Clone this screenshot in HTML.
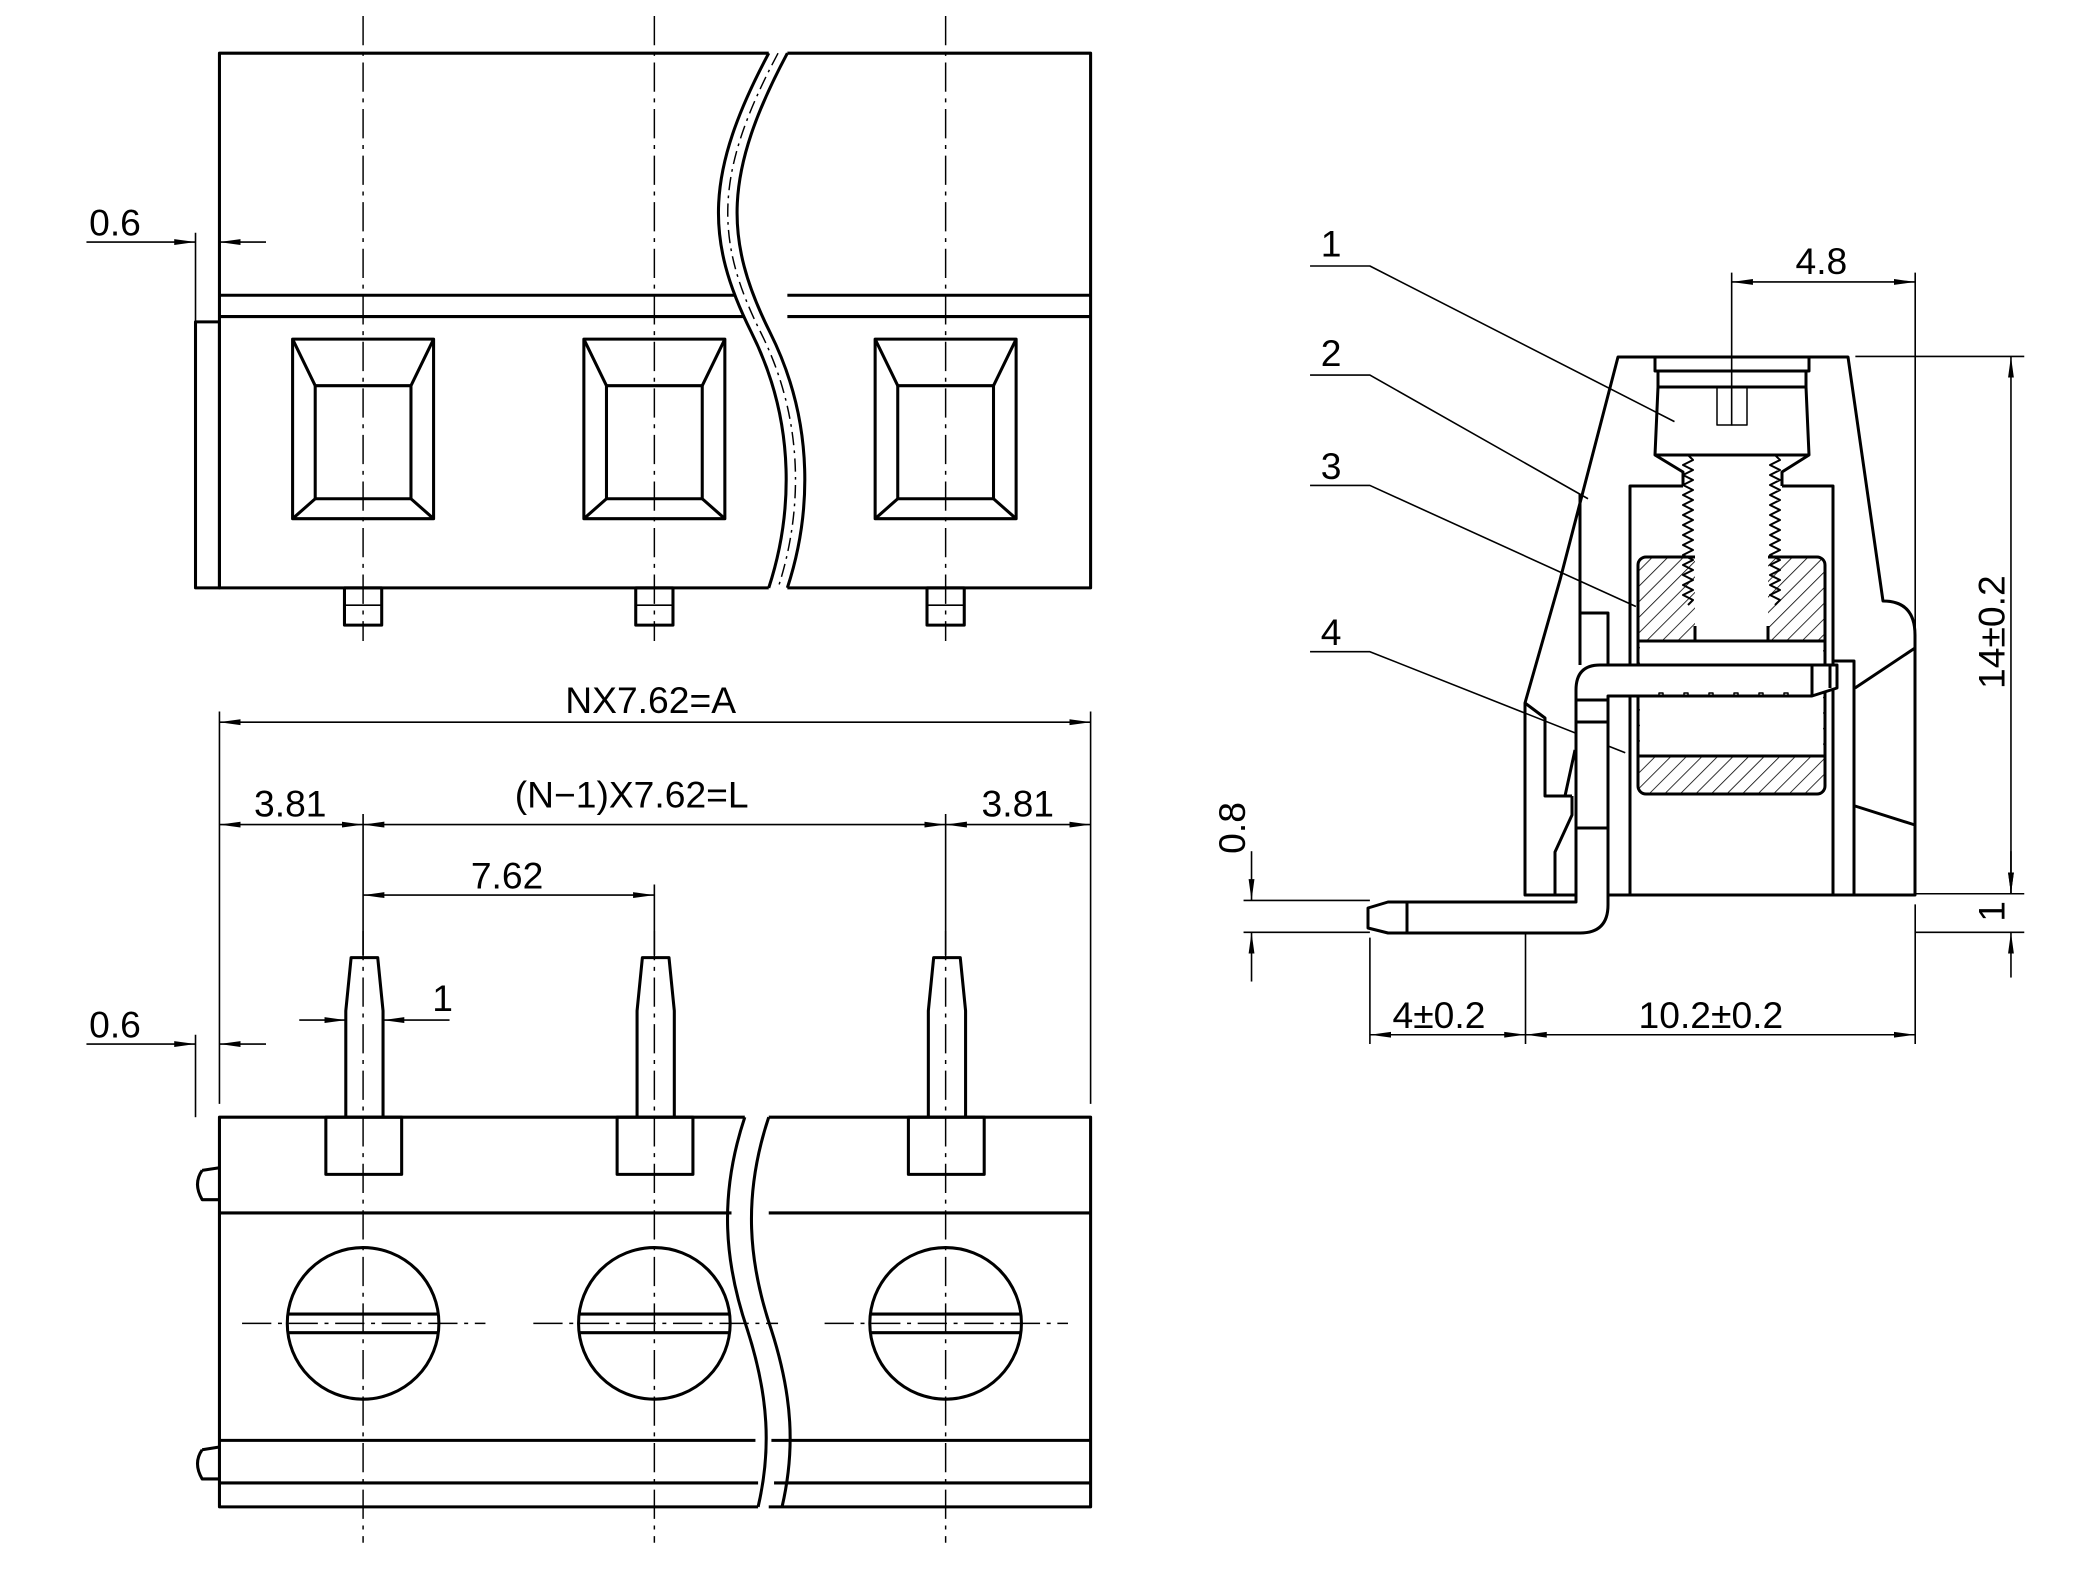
<!DOCTYPE html>
<html><head><meta charset="utf-8"><style>
html,body{margin:0;padding:0;background:#fff;}
svg{display:block}
text{font-family:"Liberation Sans",sans-serif;fill:#000;}
</style></head><body>
<svg width="2085" height="1570" viewBox="0 0 2085 1570" xmlns="http://www.w3.org/2000/svg">
<defs>
<marker id="a" markerWidth="16" markerHeight="6" refX="16" refY="3" orient="auto-start-reverse" markerUnits="userSpaceOnUse"><path d="M0,0.8 L16,3 L0,5.2 Z" fill="#000"/></marker>
<pattern id="h" width="11" height="11" patternUnits="userSpaceOnUse" patternTransform="rotate(45)"><line x1="0" y1="0" x2="0" y2="11" stroke="#000" stroke-width="1.6"/></pattern>
</defs>
<rect width="2085" height="1570" fill="#fff"/>
<g transform="scale(1.33)" fill="none" stroke="#000" stroke-width="2.3" stroke-linejoin="round">
<!-- TOP VIEW -->
<path d="M578,40 H165 V442 H578 M592,40 H820 V442 H592"/>
<path d="M165,222 H552 M165,238 H560 M592,222 H820 M592,238 H820"/>
<rect x="147" y="242" width="18" height="200"/>
<path d="M578,40 C530,130 530,180 565,250 C600,320 595,390 578,442"/>
<path d="M592,40 C544,130 544,180 579,250 C614,320 609,390 592,442"/>
<path d="M585,40 C537,130 537,180 572,250 C607,320 602,390 585,442" stroke-width="1.1" stroke-dasharray="10,4,2,4"/>
<g id="win">
<rect x="220" y="255" width="106" height="135"/>
<rect x="237" y="290" width="72" height="85"/>
<path d="M220,255 L237,290 M326,255 L309,290 M220,390 L237,375 M326,390 L309,375"/>
<rect x="259" y="442" width="28" height="28"/>
<path d="M259,455 H287" stroke-width="1.2"/>
</g>
<use href="#win" transform="translate(219,0)"/>
<use href="#win" transform="translate(438,0)"/>
<g stroke-width="1.1" stroke-dasharray="22,5,3,5">
<path d="M273,12 V482 M492,12 V482 M711,12 V482"/>
<path d="M273,700 V1160 M492,700 V1160 M711,700 V1160"/>
<path d="M182,995 H365 M401,995 H585 M620,995 H803"/>
</g>
<g stroke-width="1.2">
<path d="M65,182 H147" marker-end="url(#a)"/>
<path d="M200,182 H165" marker-end="url(#a)"/>
<path d="M147,175 V242"/>
</g>
<!-- BOTTOM VIEW -->
<path d="M560,840 H165 V1133 H570 M578,840 H820 V1133 H578"/>
<path d="M165,912 H550 M578,912 H820 M165,1083 H568 M580,1083 H820 M165,1115 H570 M582,1115 H820"/>
<path d="M560,840 C540,900 545,950 562,1000 C578,1050 580,1090 570,1133"/>
<path d="M578,840 C558,900 563,950 580,1000 C596,1050 598,1090 588,1133"/>
<path d="M152,880 Q145,890 152,902 L165,902 M165,878 L152,880"/>
<path d="M152,1090 Q145,1100 152,1112 L165,1112 M165,1088 L152,1090"/>
<g id="pin">
<rect x="245" y="840" width="57" height="43"/>
<path d="M260,840 V760 L264,720 H284 L288,760 V840"/>
<circle cx="273" cy="995" r="57"/>
<path d="M217,988 H329 M217,1002 H329"/>
</g>
<use href="#pin" transform="translate(219,0)"/>
<use href="#pin" transform="translate(438,0)"/>
<g stroke-width="1.2">
<path d="M165,535 V830 M820,535 V830 M273,612 V718 M711,612 V718 M492,665 V718"/>
<path d="M165,543 H820" marker-start="url(#a)" marker-end="url(#a)"/>
<path d="M165,620 H273" marker-start="url(#a)" marker-end="url(#a)"/>
<path d="M273,620 H711" marker-start="url(#a)" marker-end="url(#a)"/>
<path d="M711,620 H820" marker-start="url(#a)" marker-end="url(#a)"/>
<path d="M273,673 H492" marker-start="url(#a)" marker-end="url(#a)"/>
<path d="M225,767 H260" marker-end="url(#a)"/>
<path d="M338,767 H288" marker-end="url(#a)"/>
<path d="M65,785 H147" marker-end="url(#a)"/>
<path d="M200,785 H165" marker-end="url(#a)"/>
<path d="M147,778 V840"/>
</g>
<!-- right view dims -->
<g stroke-width="1.2">
<path d="M1302,205 V320 M1440,205 V480"/>
<path d="M1302,212 H1440" marker-start="url(#a)" marker-end="url(#a)"/>
<path d="M1395,268 H1522 M1440,672 H1522 M1440,701 H1522"/>
<path d="M1512,268 V672" marker-start="url(#a)" marker-end="url(#a)"/>
<path d="M1512,640 V672" marker-end="url(#a)"/>
<path d="M1512,735 V701" marker-end="url(#a)"/>
<path d="M935,677 H1030 M935,701 H1030"/>
<path d="M941,640 V677" marker-end="url(#a)"/>
<path d="M941,738 V701" marker-end="url(#a)"/>
<path d="M1030,705 V785 M1147,690 V785 M1440,680 V785"/>
<path d="M1030,778 H1147" marker-start="url(#a)" marker-end="url(#a)"/>
<path d="M1147,778 H1440" marker-start="url(#a)" marker-end="url(#a)"/>
<path d="M985,200 H1030 L1259,317 M985,282 H1030 L1194,375 M985,365 H1030 L1230,456 M985,490 H1030 L1222,566"/>
</g>
</g>
<!-- RIGHT VIEW in full coords -->
<g fill="none" stroke="#000" stroke-width="3" stroke-linejoin="round">
<rect x="1638" y="557" width="187" height="237" rx="8" fill="url(#h)"/>
<rect x="1640" y="641" width="183" height="115" fill="#fff" stroke="none"/>
<rect x="1695" y="555" width="73" height="86" fill="#fff" stroke="none"/>
<path d="M1638,641 H1825 M1638,756 H1825 M1695,626 V641 M1768,626 V641"/>
<path d="M1618,357 H1848 L1883,601 Q1915,601 1915,635 V895 H1525 V703 L1560,580 Z"/>
<path d="M1915,648 L1855,688 M1855,806 L1915,825"/>
<path d="M1630,895 V486 H1683 M1782,486 H1833 V895 M1833,661 H1854 V895"/>
<path d="M1655,357 V371 H1809 V357 M1658,371 V387 L1655,455 L1683,472 V486 M1806,371 V387 L1809,455 L1782,472 V486 M1658,387 H1806 M1655,455 H1809"/>
<path d="M1717,387 V425 H1747 V387" stroke-width="1.5"/>
<path d="M1688,455 l5,5 l-10,5 l10,5 l-10,5 l10,5 l-10,5 l10,5 l-10,5 l10,5 l-10,5 l10,5 l-10,5 l10,5 l-10,5 l10,5 l-10,5 l10,5 l-10,5 l10,5 l-10,5 l10,5 l-10,5 l10,5 l-10,5 l10,5 l-10,5 l10,5 l-10,5 l10,5 l-5,5" stroke-width="2"/>
<path d="M1775,455 l5,5 l-10,5 l10,5 l-10,5 l10,5 l-10,5 l10,5 l-10,5 l10,5 l-10,5 l10,5 l-10,5 l10,5 l-10,5 l10,5 l-10,5 l10,5 l-10,5 l10,5 l-10,5 l10,5 l-10,5 l10,5 l-10,5 l10,5 l-10,5 l10,5 l-10,5 l10,5 l-5,5" stroke-width="2"/>
<path d="M1837,665 H1600 Q1576,665 1576,690 V902 H1388 L1368,908 V928 L1388,933 H1580 Q1608,933 1608,905 V696 H1812 L1837,688 Z" fill="#fff"/>
<path d="M1407,902 V933 M1812,665 V696 M1830,665 V688"/>
<path d="M1655,696 h4 v-3 h4 v3 M1680,696 h4 v-3 h4 v3 M1705,696 h4 v-3 h4 v3 M1730,696 h4 v-3 h4 v3 M1755,696 h4 v-3 h4 v3 M1780,696 h4 v-3 h4 v3" stroke-width="1.5"/>
<path d="M1580,665 V494 M1580,613 H1608 V665 M1576,700 H1608 M1576,722 H1608 M1576,828 H1608"/>
<path d="M1525,703 L1545,718 V796 H1572 M1555,895 V852 L1572,815 V796 M1565,796 L1575,750"/>
</g>
<g transform="scale(1.33)" font-size="28">
<text x="67" y="177">0.6</text>
<text x="67" y="780">0.6</text>
<text x="425" y="536">NX7.62=A</text>
<text x="191" y="614">3.81</text>
<text x="738" y="614">3.81</text>
<text x="387" y="607">(N−1)X7.62=L</text>
<text x="354" y="668">7.62</text>
<text x="325" y="760">1</text>
<text x="1350" y="206">4.8</text>
<text x="993" y="193">1</text>
<text x="993" y="275">2</text>
<text x="993" y="360">3</text>
<text x="993" y="485">4</text>
<text x="1047" y="773">4±0.2</text>
<text x="1232" y="773">10.2±0.2</text>
<text transform="translate(1507,518) rotate(-90)">14±0.2</text>
<text transform="translate(1507,693) rotate(-90)">1</text>
<text transform="translate(936,642) rotate(-90)">0.8</text>
</g>
</svg>
</body></html>
